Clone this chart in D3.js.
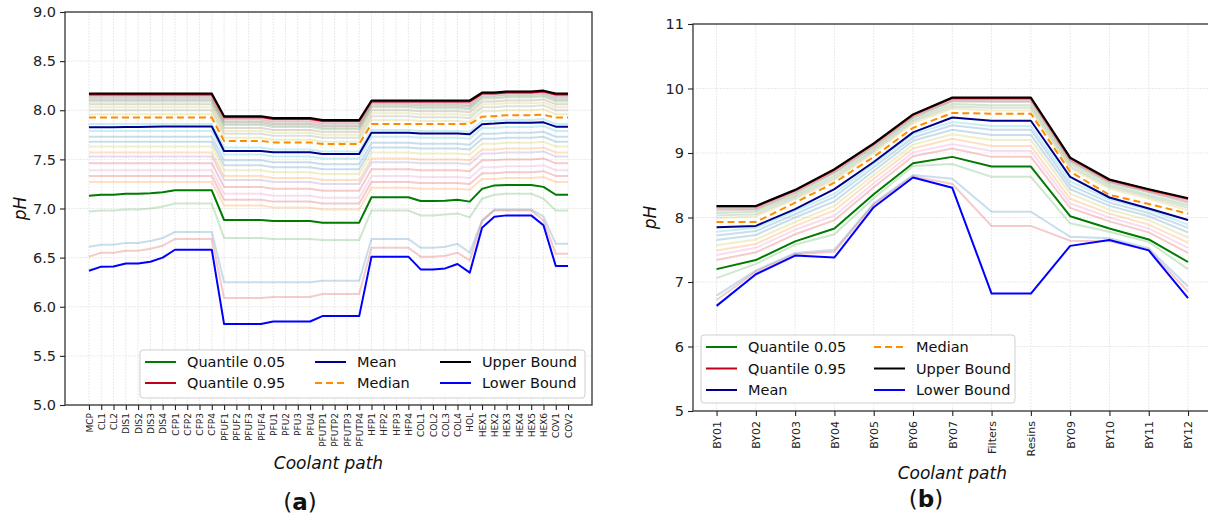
<!DOCTYPE html>
<html><head><meta charset="utf-8">
<script src="https://cdn.jsdelivr.net/npm/d3@7"></script>
<style>body{margin:0;background:#fff} text{font-family:"DejaVu Sans",sans-serif}</style>
</head><body><svg id="c" width="1208" height="520"></svg>
<script>
// ---------- Panel (a) data ----------
const catsA = ["MCP","CL1","CL2","DIS1","DIS2","DIS3","DIS4","CFP1","CFP2","CFP3","CFP4","PFUF1","PFUF2","PFUF3","PFUF4","PFU1","PFU2","PFU3","PFU4","PFUTP1","PFUTP2","PFUTP3","PFUTP4","HFP1","HFP2","HFP3","HFP4","COL1","COL2","COL3","COL4","HOL","HEX1","HEX2","HEX3","HEX4","HEX5","HEX6","COV1","COV2"];
const yTicksA = [5.0,5.5,6.0,6.5,7.0,7.5,8.0,8.5,9.0];
const q05A = [7.13,7.14,7.14,7.15,7.15,7.155,7.165,7.185,7.185,7.185,7.185, 6.883,6.883,6.883,6.883, 6.873,6.873,6.873,6.873, 6.856,6.856,6.856,6.856, 7.114,7.114,7.114,7.114, 7.076,7.076,7.08,7.09, 7.07, 7.20,7.235,7.24,7.24,7.24,7.22, 7.14,7.14];
const q95A = [8.16,8.16,8.16,8.16,8.16,8.16,8.16,8.16,8.16,8.16,8.16, 7.93,7.93,7.93,7.93, 7.91,7.91,7.91,7.91, 7.89,7.89,7.89,7.89, 8.09,8.09,8.09,8.09, 8.09,8.09,8.09,8.09, 8.09, 8.17,8.17,8.18,8.18,8.18,8.19, 8.16,8.16];
const meanA = [7.826,7.828,7.828,7.83,7.83,7.832,7.834,7.835,7.835,7.835,7.835, 7.585,7.585,7.585,7.585, 7.572,7.572,7.572,7.572, 7.555,7.555,7.555,7.555, 7.772,7.772,7.772,7.772, 7.763,7.763,7.763,7.763, 7.755, 7.857,7.864,7.874,7.874,7.874,7.877, 7.833,7.833];
const medianA = [7.925,7.925,7.925,7.925,7.925,7.925,7.925,7.925,7.925,7.925,7.925, 7.687,7.687,7.687,7.687, 7.673,7.673,7.673,7.673, 7.656,7.656,7.656,7.656, 7.86,7.86,7.86,7.86, 7.86,7.86,7.86,7.86, 7.86, 7.935,7.94,7.95,7.95,7.95,7.955, 7.925,7.925];
const upperA = [8.17,8.17,8.17,8.17,8.17,8.17,8.17,8.17,8.17,8.17,8.17, 7.94,7.94,7.94,7.94, 7.92,7.92,7.92,7.92, 7.90,7.90,7.90,7.90, 8.10,8.10,8.10,8.10, 8.10,8.10,8.10,8.10, 8.10, 8.18,8.18,8.19,8.19,8.19,8.20, 8.17,8.17];
const lowerA = [6.367,6.408,6.41,6.44,6.44,6.458,6.50,6.58,6.58,6.58,6.58, 5.824,5.824,5.824,5.824, 5.85,5.85,5.85,5.85, 5.905,5.905,5.905,5.905, 6.51,6.51,6.51,6.51, 6.38,6.38,6.39,6.435, 6.347, 6.805,6.917,6.93,6.93,6.93,6.83, 6.415,6.415];
const faintA = [
 [8.15,8.15,8.15,8.15,8.15,8.15,8.15,8.15,8.15,8.15,8.15, 7.91,7.91,7.91,7.91, 7.89,7.89,7.89,7.89, 7.87,7.87,7.87,7.87, 8.09,8.09,8.09,8.09, 8.08,8.08,8.08,8.08, 8.07, 8.18,8.18,8.19,8.19,8.19,8.20, 8.15,8.15],
 [8.135,8.135,8.135,8.135,8.135,8.135,8.135,8.135,8.135,8.135,8.135, 7.895,7.895,7.895,7.895, 7.875,7.875,7.875,7.875, 7.855,7.855,7.855,7.855, 8.075,8.075,8.075,8.075, 8.065,8.065,8.065,8.065, 8.055, 8.165,8.165,8.175,8.175,8.175,8.185, 8.135,8.135],
 [8.12,8.12,8.12,8.12,8.12,8.12,8.12,8.12,8.12,8.12,8.12, 7.88,7.88,7.88,7.88, 7.86,7.86,7.86,7.86, 7.84,7.84,7.84,7.84, 8.06,8.06,8.06,8.06, 8.05,8.05,8.05,8.05, 8.04, 8.15,8.15,8.16,8.16,8.16,8.17, 8.12,8.12],
 [8.105,8.105,8.105,8.105,8.105,8.105,8.105,8.105,8.105,8.105,8.105, 7.865,7.865,7.865,7.865, 7.845,7.845,7.845,7.845, 7.825,7.825,7.825,7.825, 8.045,8.045,8.045,8.045, 8.035,8.035,8.035,8.035, 8.025, 8.135,8.135,8.145,8.145,8.145,8.155, 8.105,8.105],
 [8.09,8.09,8.09,8.09,8.09,8.09,8.09,8.09,8.09,8.09,8.09, 7.85,7.85,7.85,7.85, 7.83,7.83,7.83,7.83, 7.81,7.81,7.81,7.81, 8.03,8.03,8.03,8.03, 8.02,8.02,8.02,8.02, 8.01, 8.12,8.12,8.13,8.13,8.13,8.14, 8.09,8.09],
 [8.06,8.06,8.06,8.06,8.06,8.06,8.06,8.06,8.06,8.06,8.06, 7.82,7.82,7.82,7.82, 7.80,7.80,7.80,7.80, 7.78,7.78,7.78,7.78, 8.00,8.00,8.00,8.00, 7.99,7.99,7.99,7.99, 7.98, 8.09,8.09,8.10,8.10,8.10,8.11, 8.06,8.06],
 [8.03,8.03,8.03,8.03,8.03,8.03,8.03,8.03,8.03,8.03,8.03, 7.79,7.79,7.79,7.79, 7.77,7.77,7.77,7.77, 7.75,7.75,7.75,7.75, 7.97,7.97,7.97,7.97, 7.96,7.96,7.96,7.96, 7.95, 8.06,8.06,8.07,8.07,8.07,8.08, 8.03,8.03],
 [8.00,8.00,8.00,8.00,8.00,8.00,8.00,8.00,8.00,8.00,8.00, 7.76,7.76,7.76,7.76, 7.74,7.74,7.74,7.74, 7.72,7.72,7.72,7.72, 7.94,7.94,7.94,7.94, 7.93,7.93,7.93,7.93, 7.92, 8.03,8.03,8.04,8.04,8.04,8.05, 8.00,8.00],
 [7.96,7.96,7.96,7.96,7.96,7.96,7.96,7.96,7.96,7.96,7.96, 7.72,7.72,7.72,7.72, 7.70,7.70,7.70,7.70, 7.68,7.68,7.68,7.68, 7.90,7.90,7.90,7.90, 7.89,7.89,7.89,7.89, 7.88, 7.99,7.99,8.00,8.00,8.00,8.01, 7.96,7.96],
 [7.86,7.86,7.86,7.86,7.86,7.86,7.86,7.86,7.86,7.86,7.86, 7.62,7.62,7.62,7.62, 7.60,7.60,7.60,7.60, 7.58,7.58,7.58,7.58, 7.80,7.80,7.80,7.80, 7.79,7.79,7.79,7.79, 7.78, 7.89,7.89,7.90,7.90,7.90,7.91, 7.86,7.86],
 [7.79,7.79,7.79,7.79,7.79,7.79,7.79,7.79,7.79,7.79,7.79, 7.55,7.55,7.55,7.55, 7.53,7.53,7.53,7.53, 7.51,7.51,7.51,7.51, 7.73,7.73,7.73,7.73, 7.72,7.72,7.72,7.72, 7.71, 7.82,7.82,7.83,7.83,7.83,7.84, 7.79,7.79],
 [7.73,7.73,7.73,7.73,7.73,7.73,7.73,7.73,7.73,7.73,7.73, 7.49,7.49,7.49,7.49, 7.47,7.47,7.47,7.47, 7.45,7.45,7.45,7.45, 7.67,7.67,7.67,7.67, 7.66,7.66,7.66,7.66, 7.65, 7.76,7.76,7.77,7.77,7.77,7.78, 7.73,7.73],
 [7.68,7.68,7.68,7.68,7.68,7.68,7.68,7.68,7.68,7.68,7.68, 7.44,7.44,7.44,7.44, 7.42,7.42,7.42,7.42, 7.40,7.40,7.40,7.40, 7.62,7.62,7.62,7.62, 7.61,7.61,7.61,7.61, 7.60, 7.71,7.71,7.72,7.72,7.72,7.73, 7.68,7.68],
 [7.63,7.63,7.63,7.63,7.63,7.63,7.63,7.63,7.63,7.63,7.63, 7.39,7.39,7.39,7.39, 7.37,7.37,7.37,7.37, 7.35,7.35,7.35,7.35, 7.57,7.57,7.57,7.57, 7.56,7.56,7.56,7.56, 7.55, 7.66,7.66,7.67,7.67,7.67,7.68, 7.63,7.63],
 [7.57,7.57,7.57,7.57,7.57,7.57,7.57,7.57,7.57,7.57,7.57, 7.33,7.33,7.33,7.33, 7.31,7.31,7.31,7.31, 7.29,7.29,7.29,7.29, 7.51,7.51,7.51,7.51, 7.50,7.50,7.50,7.50, 7.49, 7.60,7.60,7.61,7.61,7.61,7.62, 7.57,7.57],
 [7.53,7.53,7.53,7.53,7.53,7.53,7.53,7.53,7.53,7.53,7.53, 7.29,7.29,7.29,7.29, 7.27,7.27,7.27,7.27, 7.25,7.25,7.25,7.25, 7.47,7.47,7.47,7.47, 7.46,7.46,7.46,7.46, 7.45, 7.56,7.56,7.57,7.57,7.57,7.58, 7.53,7.53],
 [7.46,7.46,7.46,7.46,7.46,7.46,7.46,7.46,7.46,7.46,7.46, 7.22,7.22,7.22,7.22, 7.20,7.20,7.20,7.20, 7.18,7.18,7.18,7.18, 7.40,7.40,7.40,7.40, 7.39,7.39,7.39,7.39, 7.38, 7.49,7.49,7.50,7.50,7.50,7.51, 7.46,7.46],
 [7.39,7.39,7.39,7.39,7.39,7.39,7.39,7.39,7.39,7.39,7.39, 7.15,7.15,7.15,7.15, 7.13,7.13,7.13,7.13, 7.11,7.11,7.11,7.11, 7.33,7.33,7.33,7.33, 7.32,7.32,7.32,7.32, 7.31, 7.42,7.42,7.43,7.43,7.43,7.44, 7.39,7.39],
 [7.33,7.33,7.33,7.33,7.33,7.33,7.33,7.33,7.33,7.33,7.33, 7.09,7.09,7.09,7.09, 7.07,7.07,7.07,7.07, 7.05,7.05,7.05,7.05, 7.27,7.27,7.27,7.27, 7.26,7.26,7.26,7.26, 7.25, 7.36,7.36,7.37,7.37,7.37,7.38, 7.33,7.33],
 [7.27,7.27,7.27,7.27,7.27,7.27,7.27,7.27,7.27,7.27,7.27, 7.03,7.03,7.03,7.03, 7.01,7.01,7.01,7.01, 6.99,6.99,6.99,6.99, 7.21,7.21,7.21,7.21, 7.20,7.20,7.20,7.20, 7.19, 7.30,7.30,7.31,7.31,7.31,7.32, 7.27,7.27],
 [6.97,6.98,6.98,6.99,6.99,7.00,7.02,7.05,7.05,7.05,7.05, 6.70,6.70,6.70,6.70, 6.69,6.69,6.69,6.69, 6.68,6.68,6.68,6.68, 6.98,6.98,6.98,6.98, 6.93,6.93,6.94,6.95, 6.91, 7.10,7.14,7.15,7.15,7.15,7.10, 6.98,6.98],
 [6.61,6.63,6.63,6.65,6.65,6.67,6.70,6.76,6.76,6.76,6.76, 6.25,6.25,6.25,6.25, 6.25,6.25,6.25,6.25, 6.265,6.265,6.265,6.265, 6.69,6.69,6.69,6.69, 6.60,6.60,6.61,6.64, 6.55, 6.88,6.99,6.99,6.99,6.99,6.92, 6.64,6.64],
 [6.51,6.55,6.55,6.57,6.57,6.59,6.62,6.69,6.69,6.69,6.69, 6.09,6.09,6.09,6.09, 6.10,6.10,6.10,6.10, 6.13,6.13,6.13,6.13, 6.60,6.60,6.60,6.60, 6.51,6.51,6.52,6.55, 6.47, 6.87,6.98,6.98,6.98,6.98,6.88, 6.54,6.54]
];
const faintColorsA = ["#d62728","#7f7f7f","#8c564b","#7f7f7f","#2ca02c","#8c564b","#bcbd22","#7f7f7f","#bcbd22","#17becf","#17becf","#1f77b4","#1f77b4","#bcbd22","#ff7f0e","#9467bd","#d62728","#e377c2","#d62728","#ff7f0e","#2ca02c","#1f77b4","#d62728"];

// ---------- Panel (b) data ----------
const catsB = ["BY01","BY02","BY03","BY04","BY05","BY06","BY07","Filters","Resins","BY09","BY10","BY11","BY12"];
const yTicksB = [5,6,7,8,9,10,11];
const q05B = [7.20,7.34,7.63,7.83,8.36,8.84,8.94,8.79,8.79,8.02,7.83,7.66,7.31];
const q95B = [8.17,8.17,8.42,8.74,9.14,9.59,9.85,9.85,9.85,8.92,8.58,8.43,8.29];
const meanB = [7.85,7.87,8.13,8.44,8.86,9.32,9.55,9.50,9.50,8.63,8.31,8.14,7.96];
const medianB = [7.93,7.93,8.23,8.54,8.94,9.39,9.62,9.61,9.61,8.71,8.35,8.21,8.06];
const upperB = [8.18,8.18,8.43,8.75,9.15,9.60,9.86,9.86,9.86,8.93,8.59,8.44,8.30];
const lowerB = [6.63,7.12,7.41,7.38,8.16,8.62,8.46,6.82,6.82,7.56,7.65,7.49,6.75];
const faintB = [
 [8.15,8.15,8.41,8.72,9.13,9.58,9.83,9.83,9.83,8.90,8.57,8.42,8.27],
 [8.13,8.13,8.39,8.70,9.11,9.56,9.81,9.81,9.81,8.88,8.55,8.40,8.25],
 [8.11,8.12,8.37,8.69,9.09,9.55,9.80,9.79,9.79,8.87,8.54,8.39,8.23],
 [8.07,8.09,8.34,8.65,9.06,9.52,9.76,9.74,9.74,8.83,8.51,8.35,8.19],
 [8.03,8.05,8.31,8.61,9.03,9.49,9.72,9.70,9.70,8.79,8.48,8.32,8.15],
 [7.99,8.02,8.28,8.58,9.00,9.46,9.69,9.66,9.66,8.76,8.45,8.29,8.11],
 [7.78,7.84,8.10,8.37,8.83,9.29,9.48,9.42,9.42,8.56,8.28,8.12,7.89],
 [7.72,7.79,8.05,8.32,8.78,9.24,9.43,9.36,9.36,8.50,8.23,8.07,7.84],
 [7.65,7.73,8.00,8.25,8.72,9.19,9.36,9.28,9.28,8.44,8.18,8.02,7.77],
 [7.57,7.66,7.93,8.18,8.66,9.13,9.29,9.20,9.20,8.37,8.12,7.96,7.69],
 [7.49,7.59,7.87,8.11,8.60,9.07,9.22,9.11,9.11,8.29,8.06,7.89,7.61],
 [7.42,7.53,7.81,8.03,8.53,9.01,9.14,9.03,9.03,8.22,8.00,7.83,7.53],
 [7.34,7.46,7.74,7.96,8.47,8.95,9.07,8.94,8.94,8.15,7.94,7.77,7.45],
 [7.06,7.28,7.58,7.74,8.30,8.80,8.83,8.63,8.63,7.91,7.78,7.62,7.20],
 [6.79,7.18,7.45,7.50,8.22,8.66,8.60,8.09,8.09,7.70,7.68,7.52,6.93],
 [6.72,7.16,7.43,7.47,8.20,8.64,8.52,7.87,7.87,7.64,7.63,7.50,6.85]
];
const faintColorsB = ["#d62728","#7f7f7f","#8c564b","#2ca02c","#7f7f7f","#bcbd22","#17becf","#1f77b4","#1f77b4","#bcbd22","#ff7f0e","#e377c2","#d62728","#2ca02c","#1f77b4","#d62728"];

const seriesNames = ["Quantile 0.05","Quantile 0.95","Mean","Median","Upper Bound","Lower Bound"];
const seriesColors = ["#007a00","#c0001a","#00008b","#ff8c00","#000000","#0000ff"];

const svg = d3.select("#c");

function drawPanel(o) {
  const g = svg.append("g");
  const n = o.cats.length;
  const x = d3.scalePoint().domain(o.cats).range([o.left, o.right]).padding(0.05 * (n - 1));
  const y = d3.scaleLinear().domain(o.yDomain).range([o.bottom, o.top]);

  // grid
  const grid = g.append("g").attr("stroke", "#e4e4e4").attr("stroke-width", 0.8).attr("stroke-dasharray", "2,1");
  grid.selectAll("line.v").data(o.cats).join("line").attr("class", "v")
    .attr("x1", d => x(d)).attr("x2", d => x(d)).attr("y1", o.top).attr("y2", o.bottom);
  grid.selectAll("line.h").data(o.yTicks).join("line").attr("class", "h")
    .attr("x1", o.left).attr("x2", o.right).attr("y1", d => y(d)).attr("y2", d => y(d));

  const line = d3.line().x((d, i) => x(o.cats[i])).y(d => y(d));

  // faint lines
  g.append("g").selectAll("path").data(o.faint).join("path")
    .attr("d", line).attr("fill", "none")
    .attr("stroke", (d, i) => o.faintColors[i % o.faintColors.length])
    .attr("stroke-opacity", 0.24).attr("stroke-width", 2);

  // main series
  o.series.forEach((vals, k) => {
    g.append("path").datum(vals).attr("d", line).attr("fill", "none")
      .attr("stroke", seriesColors[k]).attr("stroke-width", 2)
      .attr("stroke-linejoin", "round")
      .attr("stroke-dasharray", k === 3 ? "7,4" : null);
  });

  // frame
  g.append("rect").attr("x", o.left).attr("y", o.top)
    .attr("width", o.right - o.left).attr("height", o.bottom - o.top)
    .attr("fill", "none").attr("stroke", "#333").attr("stroke-width", 1.3);

  // y axis
  const ya = g.append("g").attr("transform", `translate(${o.left},0)`)
    .call(d3.axisLeft(y).tickValues(o.yTicks).tickFormat(o.fmt).tickSize(5).tickPadding(4));
  ya.select(".domain").remove();
  ya.selectAll("line").attr("stroke", "#222").attr("stroke-width", 1.1);
  ya.selectAll("text").attr("font-size", 14.5).attr("font-family", "DejaVu Sans").attr("fill", "#222");

  // x axis
  const xa = g.append("g").attr("transform", `translate(0,${o.bottom})`)
    .call(d3.axisBottom(x).tickSize(5));
  xa.select(".domain").remove();
  xa.selectAll("line").attr("stroke", "#222").attr("stroke-width", 1.1);
  xa.selectAll("text").attr("font-size", o.xFont).attr("font-family", "DejaVu Sans").attr("fill", "#222")
    .attr("transform", "rotate(-90)").attr("text-anchor", "end")
    .attr("x", -o.xLabOff).attr("y", 0).attr("dy", "0.35em");

  // axis titles
  g.append("text").attr("transform", `translate(${o.yTitleX},${(o.top + o.bottom) / 2}) rotate(-90)`)
    .attr("text-anchor", "middle").attr("dy", "0.35em")
    .attr("font-size", 17).attr("font-style", "italic").attr("fill", "#111").text("pH");
  g.append("text").attr("x", (o.left + o.right) / 2).attr("y", o.xTitleY)
    .attr("text-anchor", "middle").attr("dy", "0.35em")
    .attr("font-size", 17).attr("font-style", "italic").attr("fill", "#111").text("Coolant path");

  // panel letter
  const pl = g.append("text").attr("x", o.letterX).attr("y", o.letterY)
    .attr("text-anchor", "middle").attr("font-family", "Liberation Serif, serif").attr("font-size", 23).attr("fill", "#111");
  pl.append("tspan").text("(");
  pl.append("tspan").attr("font-weight", "bold").text(o.letter);
  pl.append("tspan").text(")");

  // legend
  const L = o.legend;
  g.append("rect").attr("x", L.x).attr("y", L.y).attr("width", L.w).attr("height", L.h)
    .attr("rx", 3).attr("fill", "#fff").attr("fill-opacity", 0.85).attr("stroke", "#cfcfcf").attr("stroke-width", 1);
  L.items.forEach((k, j) => {
    const col = Math.floor(j / L.rows), row = j % L.rows;
    const cx = L.colX[col], cy = L.y + L.row0 + row * L.rowH;
    g.append("line").attr("x1", cx).attr("x2", cx + 31).attr("y1", cy).attr("y2", cy)
      .attr("stroke", seriesColors[k]).attr("stroke-width", 2)
      .attr("stroke-dasharray", k === 3 ? "7,4" : null);
    g.append("text").attr("x", cx + 42).attr("y", cy).attr("dy", "0.35em")
      .attr("font-size", 14.5).attr("fill", "#111").text(seriesNames[k]);
  });
}

drawPanel({
  cats: catsA, left: 65, right: 592, top: 12, bottom: 405,
  yDomain: [5, 9], yTicks: yTicksA, fmt: d3.format(".1f"),
  faint: faintA, faintColors: faintColorsA,
  series: [q05A, q95A, meanA, medianA, upperA, lowerA],
  xFont: 9, xLabOff: 8, yTitleX: 20, xTitleY: 463,
  letter: "a", letterX: 300, letterY: 510,
  legend: { x: 140, y: 350, w: 445, h: 48, rows: 2, row0: 12, rowH: 21, colX: [145, 315, 440], items: [0,1,2,3,4,5] }
});

drawPanel({
  cats: catsB, left: 693, right: 1211.6, top: 24, bottom: 411,
  yDomain: [5, 11], yTicks: yTicksB, fmt: d3.format("d"),
  faint: faintB, faintColors: faintColorsB,
  series: [q05B, q95B, meanB, medianB, upperB, lowerB],
  xFont: 11, xLabOff: 10, yTitleX: 650, xTitleY: 473,
  letter: "b", letterX: 926, letterY: 507,
  legend: { x: 701, y: 335, w: 314, h: 68, rows: 3, row0: 12, rowH: 21.5, colX: [706, 874], items: [0,1,2,3,4,5] }
});
</script>
</body></html>
